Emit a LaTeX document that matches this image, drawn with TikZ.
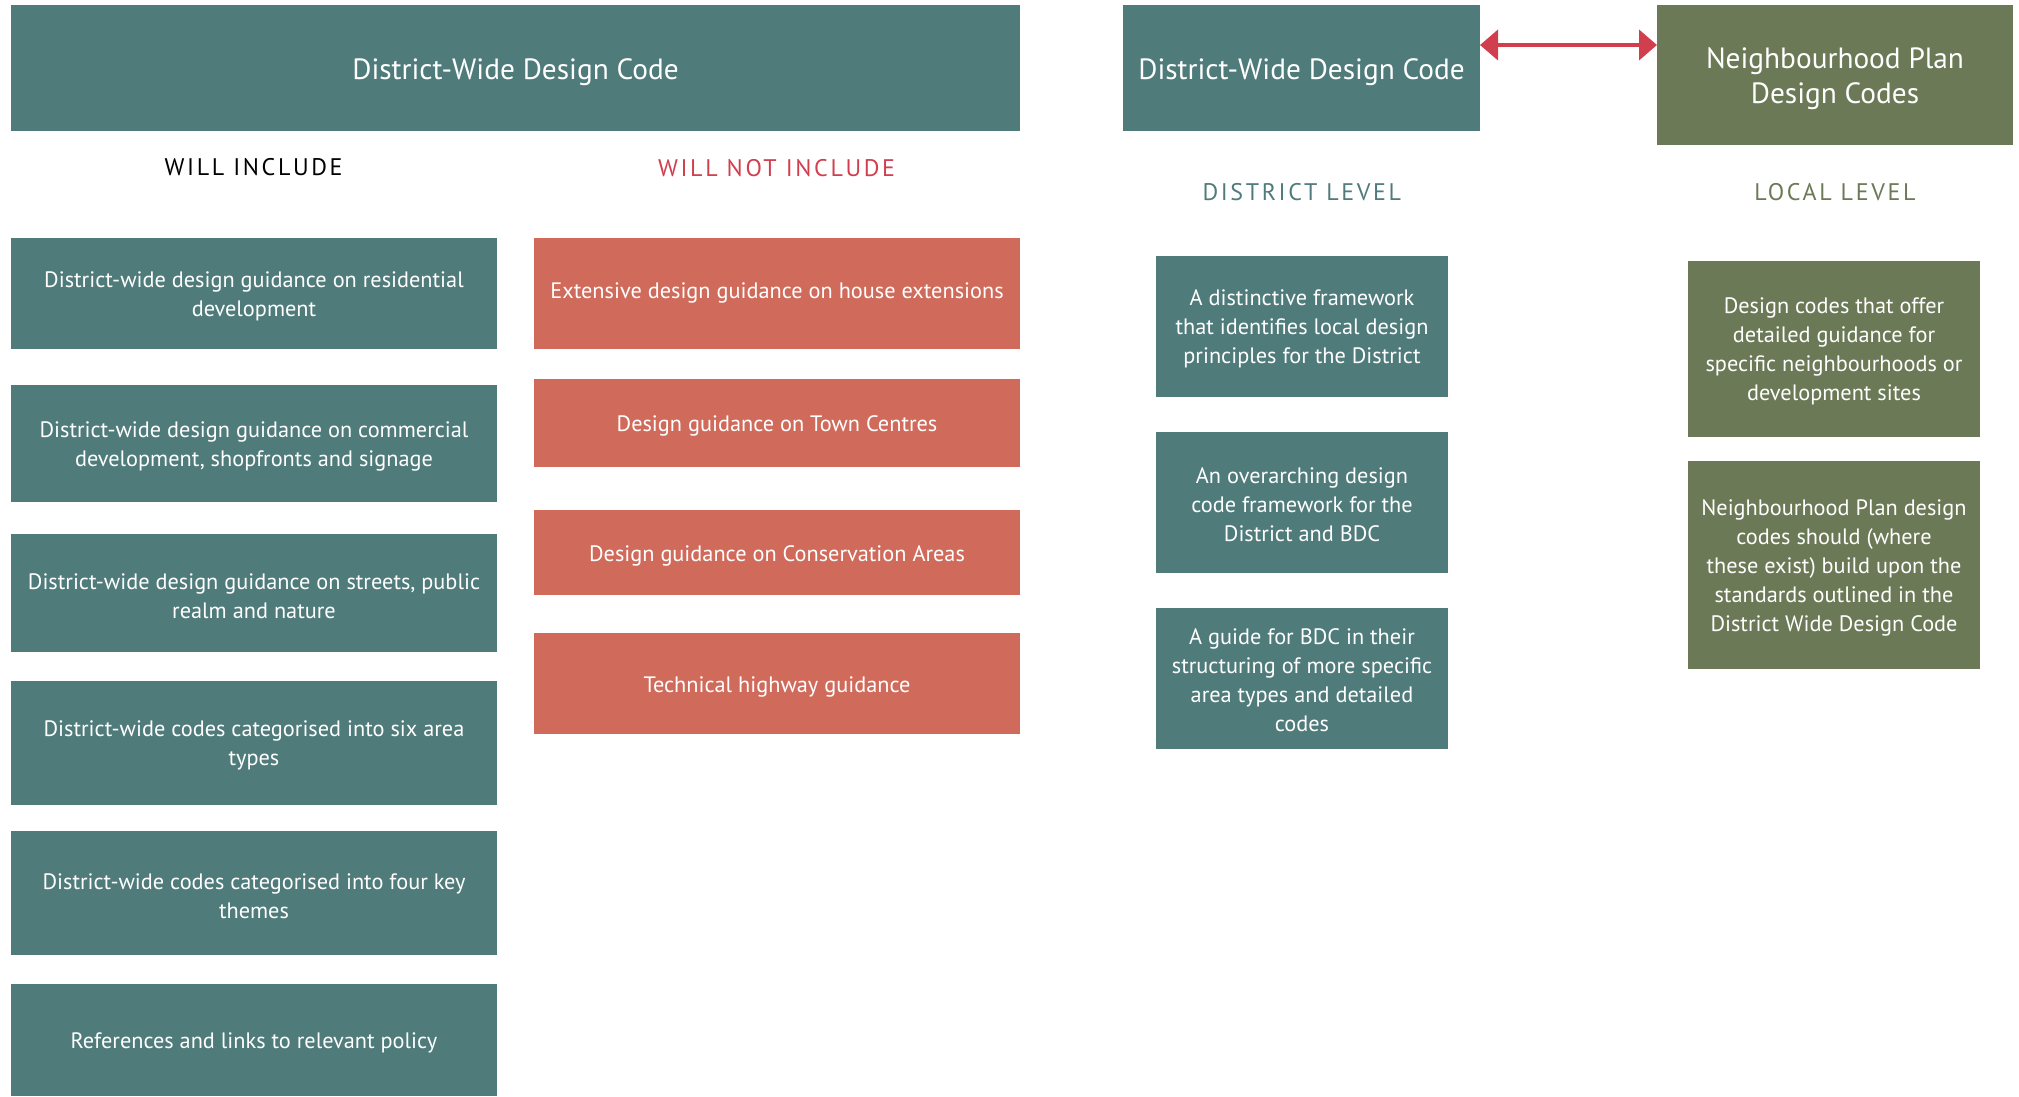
\documentclass[tikz,border=0pt]{standalone}
\usepackage{fontspec}
\setmainfont{PT Sans}
\usetikzlibrary{arrows.meta}
\definecolor{tealc}{RGB}{79,123,122}
\definecolor{salmonc}{RGB}{208,107,91}
\definecolor{olivec}{RGB}{107,121,86}
\definecolor{arrowc}{RGB}{209,63,79}
% name, x1, y1, x2, y2, fill style, text style, text shift, text
\newcommand\BX[9]{%
  \node[#6,minimum width={(#4)-(#2)},minimum height={(#5)-(#3)}] (#1) at ({((#2)+(#4))/2},{((#3)+(#5))/2}) {};
  \node[#7] (#1t) at ([yshift=#8]#1.center) {#9};}
\tikzset{
  basebox/.style={rectangle,draw=none,inner sep=0pt,outer sep=0pt},
  tealbox/.style={basebox,fill=tealc},
  redbox/.style={basebox,fill=salmonc},
  olivebox/.style={basebox,fill=olivec},
  bodytext/.style={inner sep=0pt,align=center,text=white,font=\fontsize{22.3}{29}\selectfont},
  titletext/.style={inner sep=0pt,align=center,text=white,font=\fontsize{29.3}{35}\selectfont},
  heading/.style={inner sep=0pt,font=\fontsize{24}{28}\selectfont\addfontfeature{LetterSpace=11}},
  dblarrow/.style={draw=arrowc,line width=4pt,{Triangle[length=18pt,width=30pt]}-{Triangle[length=18pt,width=30pt]}},
}
\begin{document}
\begin{tikzpicture}[x=1pt,y=-1pt]
\useasboundingbox (0,0) rectangle (2019,1096);
% top title boxes
\BX{T1}{11}{5}{1020}{130.5}{tealbox}{titletext}{-4pt}{District-Wide Design Code}
\BX{T2}{1123}{5}{1480}{130.5}{tealbox}{titletext}{-4pt}{District-Wide Design Code}
\BX{T3}{1657}{5}{2013}{144.5}{olivebox}{titletext}{-4pt}{Neighbourhood Plan\\Design Codes}
% headings
\node[heading,text=black] (hInc) at (253.6,167) {WILL INCLUDE};
\node[heading,text=arrowc] (hNot) at (776.6,168) {WILL NOT INCLUDE};
\node[heading,text=tealc] (hDist) at (1301.8,192) {DISTRICT LEVEL};
\node[heading,text=olivec] (hLoc) at (1834.9,192) {LOCAL LEVEL};
% will include
\BX{L1}{11}{238}{497}{348.5}{tealbox}{bodytext}{-3pt}{District-wide design guidance on residential\\development}
\BX{L2}{11}{385}{497}{501.5}{tealbox}{bodytext}{-3pt}{District-wide design guidance on commercial\\development, shopfronts and signage}
\BX{L3}{11}{534}{497}{651.5}{tealbox}{bodytext}{-3pt}{District-wide design guidance on streets, public\\realm and nature}
\BX{L4}{11}{681}{497}{804.5}{tealbox}{bodytext}{-3pt}{District-wide codes categorised into six area\\types}
\BX{L5}{11}{831}{497}{954.5}{tealbox}{bodytext}{-3pt}{District-wide codes categorised into four key\\themes}
\BX{L6}{11}{984}{497}{1096}{tealbox}{bodytext}{-3pt}{References and links to relevant policy}
% will not include
\BX{R1}{534}{238}{1020}{348.5}{redbox}{bodytext}{0pt}{Extensive design guidance on house extensions}
\BX{R2}{534}{379}{1020}{466.5}{redbox}{bodytext}{-3pt}{Design guidance on Town Centres}
\BX{R3}{534}{510}{1020}{595}{redbox}{bodytext}{-3pt}{Design guidance on Conservation Areas}
\BX{R4}{534}{633}{1020}{734}{redbox}{bodytext}{-3pt}{Technical highway guidance}
% district level
\BX{D1}{1156}{256}{1448}{396.5}{tealbox}{bodytext}{-3pt}{A distinctive framework\\that identifies local design\\principles for the District}
\BX{D2}{1156}{432}{1448}{572.5}{tealbox}{bodytext}{-2pt}{An overarching design\\code framework for the\\District and BDC}
\BX{D3}{1156}{608}{1448}{748.5}{tealbox}{bodytext}{-2pt}{A guide for BDC in their\\structuring of more specific\\area types and detailed\\codes}
% local level
\BX{G1}{1688}{261}{1980}{436.5}{olivebox}{bodytext}{-3pt}{Design codes that offer\\detailed guidance for\\specific neighbourhoods or\\development sites}
\BX{G2}{1688}{461}{1980}{668.5}{olivebox}{bodytext}{-3pt}{Neighbourhood Plan design\\codes should (where\\these exist) build upon the\\standards outlined in the\\District Wide Design Code}
% arrow
\path (T2.north east) ++(0,40) coordinate (aS);
\path (T3.north west) ++(0,40) coordinate (aE);
\draw[dblarrow] (aS) -- (aE);
\end{tikzpicture}
\end{document}
